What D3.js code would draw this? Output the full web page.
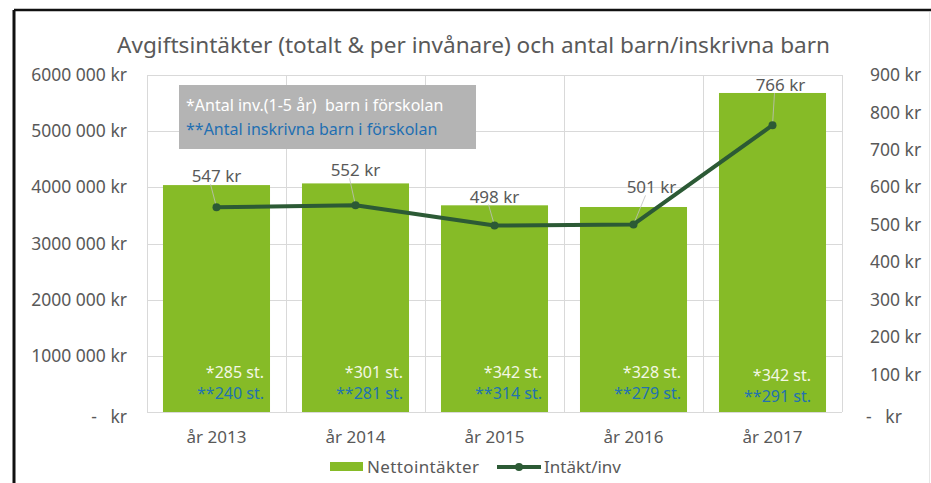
<!DOCTYPE html>
<html>
<head>
<meta charset="utf-8">
<script src="https://cdn.jsdelivr.net/npm/d3@7"></script>
<style>
  body { margin: 0; background: #fff; }
  text { font-family: "Noto Sans", "Open Sans", sans-serif; fill: #595959; }
</style>
</head>
<body>
<div id="chart"></div>
<script>
// Chart data
const years = ['år 2013', 'år 2014', 'år 2015', 'år 2016', 'år 2017'];
const nettointakter = [4040000, 4070000, 3680000, 3650000, 5680000];
const intaktPerInv = [547, 552, 498, 501, 766];
const antalInv = [285, 301, 342, 328, 342];
const antalInskrivna = [240, 281, 314, 279, 291];
const leftTicks = [0, 1000000, 2000000, 3000000, 4000000, 5000000, 6000000];
const rightTicks = [0, 100, 200, 300, 400, 500, 600, 700, 800, 900];

// label placement for the line values (offset from point)
const lineLabelOffset = [[0, -31], [0, -35], [0, -29], [18, -37], [8, -40]];

const width = 931, height = 483;
const plot = { left: 147, right: 842, top: 75, bottom: 412 };

const svg = d3.select('#chart').append('svg')
    .attr('width', width)
    .attr('height', height);

// frame
svg.append('line').attr('x1', 14).attr('x2', 931).attr('y1', 10).attr('y2', 10)
    .attr('stroke', '#111').attr('stroke-width', 2.5);
svg.append('line').attr('x1', 14).attr('x2', 14).attr('y1', 10).attr('y2', 483)
    .attr('stroke', '#111').attr('stroke-width', 3);
svg.append('line').attr('x1', 929.5).attr('x2', 929.5).attr('y1', 12).attr('y2', 483)
    .attr('stroke', '#e6e6e6').attr('stroke-width', 1);

// scales
const x = d3.scaleBand()
    .domain(years)
    .range([plot.left, plot.right])
    .paddingInner(0.23)
    .paddingOuter(0.115);

const yLeft = d3.scaleLinear().domain([0, 6000000]).range([plot.bottom, plot.top]);
const yRight = d3.scaleLinear().domain([0, 900]).range([plot.bottom, plot.top]);

// gridlines
const grid = svg.append('g');
grid.selectAll('.hgrid')
    .data(leftTicks)
    .enter().append('line')
    .attr('x1', plot.left).attr('x2', plot.right)
    .attr('y1', d => Math.round(yLeft(d)) + 0.5)
    .attr('y2', d => Math.round(yLeft(d)) + 0.5)
    .attr('stroke', '#d9d9d9');
const step = x.step();
grid.selectAll('.vgrid')
    .data(d3.range(years.length + 1))
    .enter().append('line')
    .attr('x1', i => Math.round(plot.left + i * step) + 0.5)
    .attr('x2', i => Math.round(plot.left + i * step) + 0.5)
    .attr('y1', plot.top).attr('y2', plot.bottom)
    .attr('stroke', '#d9d9d9');

// title
svg.append('text')
    .attr('x', 117).attr('y', 53)
    .attr('textLength', 713)
    .attr('lengthAdjust', 'spacingAndGlyphs')
    .style('font-size', '22px')
    .text('Avgiftsintäkter (totalt & per invånare) och antal barn/inskrivna barn');

// left axis
const fmtLeft = d => d === 0 ? '-   kr' : d3.format(',')(d).replace(/,/g, ' ').replace(/^(\d) /, '$1') + ' kr';
const leftAxis = svg.append('g')
    .attr('transform', `translate(${plot.left - 20},0)`)
    .call(d3.axisLeft(yLeft).tickValues(leftTicks).tickSize(0).tickFormat(fmtLeft));
leftAxis.select('.domain').remove();
leftAxis.selectAll('text')
    .style('font-size', '17.5px')
    .attr('fill', '#595959')
    .attr('x', 0)
    .attr('dy', d => d === 0 ? '0.6em' : '0.32em')
    .attr('xml:space', 'preserve');

// right axis
const rightAxis = svg.append('g')
    .attr('transform', `translate(${plot.right + 28},0)`)
    .call(d3.axisRight(yRight).tickValues(rightTicks).tickSize(0).tickFormat(d => d === 0 ? '-   kr' : d + ' kr'));
rightAxis.select('.domain').remove();
rightAxis.selectAll('text')
    .style('font-size', '17.5px')
    .attr('fill', '#595959')
    .attr('x', d => d === 0 ? -4 : 0)
    .attr('dy', d => d === 0 ? '0.6em' : '0.32em')
    .attr('xml:space', 'preserve');

// bars
svg.selectAll('.bar')
    .data(nettointakter)
    .enter().append('rect')
    .attr('class', 'bar')
    .attr('x', (d, i) => x(years[i]))
    .attr('width', x.bandwidth())
    .attr('y', d => yLeft(d))
    .attr('height', d => plot.bottom - yLeft(d))
    .attr('fill', '#86bb27');

// in-bar counts
svg.selectAll('.inv')
    .data(antalInv)
    .enter().append('text')
    .attr('x', (d, i) => x(years[i]) + x.bandwidth() - 6 - (i === 4 ? 9 : 0))
    .attr('y', (d, i) => 378 + (i === 4 ? 3 : 0))
    .attr('text-anchor', 'end')
    .style('font-size', '16px')
    .style('fill', '#f3f7e4')
    .text(d => '*' + d + ' st.');
svg.selectAll('.inskr')
    .data(antalInskrivna)
    .enter().append('text')
    .attr('x', (d, i) => x(years[i]) + x.bandwidth() - 6 - (i === 4 ? 9 : 0))
    .attr('y', (d, i) => 399 + (i === 4 ? 3 : 0))
    .attr('text-anchor', 'end')
    .style('font-size', '16px')
    .style('fill', '#2272b0')
    .text(d => '**' + d + ' st.');

// x labels
svg.selectAll('.xlab')
    .data(years)
    .enter().append('text')
    .attr('x', d => x(d) + x.bandwidth() / 2)
    .attr('y', 443)
    .attr('text-anchor', 'middle')
    .style('font-size', '17px')
    .text(d => d);

// line
const cx = i => x(years[i]) + x.bandwidth() / 2;
const line = d3.line()
    .x((d, i) => cx(i))
    .y(d => yRight(d));

// leader lines
svg.selectAll('.leader')
    .data(intaktPerInv)
    .enter().append('line')
    .attr('x1', (d, i) => cx(i) + lineLabelOffset[i][0] - 6)
    .attr('y1', (d, i) => yRight(d) + lineLabelOffset[i][1] + 8)
    .attr('x2', (d, i) => cx(i))
    .attr('y2', d => yRight(d))
    .attr('stroke', '#bfbfbf')
    .attr('stroke-width', 0.8);

svg.append('path')
    .datum(intaktPerInv)
    .attr('d', line)
    .attr('fill', 'none')
    .attr('stroke', '#2c5a35')
    .attr('stroke-width', 4)
    .attr('stroke-linejoin', 'round');

svg.selectAll('.dot')
    .data(intaktPerInv)
    .enter().append('circle')
    .attr('cx', (d, i) => cx(i))
    .attr('cy', d => yRight(d))
    .attr('r', 4)
    .attr('fill', '#2c5a35');

svg.selectAll('.vlab')
    .data(intaktPerInv)
    .enter().append('text')
    .attr('x', (d, i) => cx(i) + lineLabelOffset[i][0])
    .attr('y', (d, i) => yRight(d) + lineLabelOffset[i][1] + 6)
    .attr('text-anchor', 'middle')
    .style('font-size', '17px')
    .text(d => d + ' kr');

// annotation box
svg.append('rect')
    .attr('x', 179).attr('y', 85)
    .attr('width', 297).attr('height', 64)
    .attr('fill', '#b4b4b4');
svg.append('text')
    .attr('x', 186).attr('y', 111)
    .attr('xml:space', 'preserve')
    .style('font-size', '16px')
    .style('fill', '#ffffff')
    .text('*Antal inv.(1-5 år)  barn i förskolan');
svg.append('text')
    .attr('x', 186).attr('y', 135)
    .style('font-size', '16px')
    .style('fill', '#1f6fb2')
    .text('**Antal inskrivna barn i förskolan');

// legend
const legend = svg.append('g');
legend.append('rect')
    .attr('x', 330).attr('y', 462)
    .attr('width', 33).attr('height', 9)
    .attr('fill', '#86bb27');
legend.append('text')
    .attr('x', 367).attr('y', 473)
    .attr('textLength', 112)
    .attr('lengthAdjust', 'spacing')
    .style('font-size', '17px')
    .text('Nettointäkter');
legend.append('line')
    .attr('x1', 497).attr('x2', 541)
    .attr('y1', 467).attr('y2', 467)
    .attr('stroke', '#2c5a35').attr('stroke-width', 4);
legend.append('circle')
    .attr('cx', 519).attr('cy', 467).attr('r', 4)
    .attr('fill', '#2c5a35');
legend.append('text')
    .attr('x', 544).attr('y', 473)
    .style('font-size', '17px')
    .text('Intäkt/inv');
</script>
</body>
</html>
